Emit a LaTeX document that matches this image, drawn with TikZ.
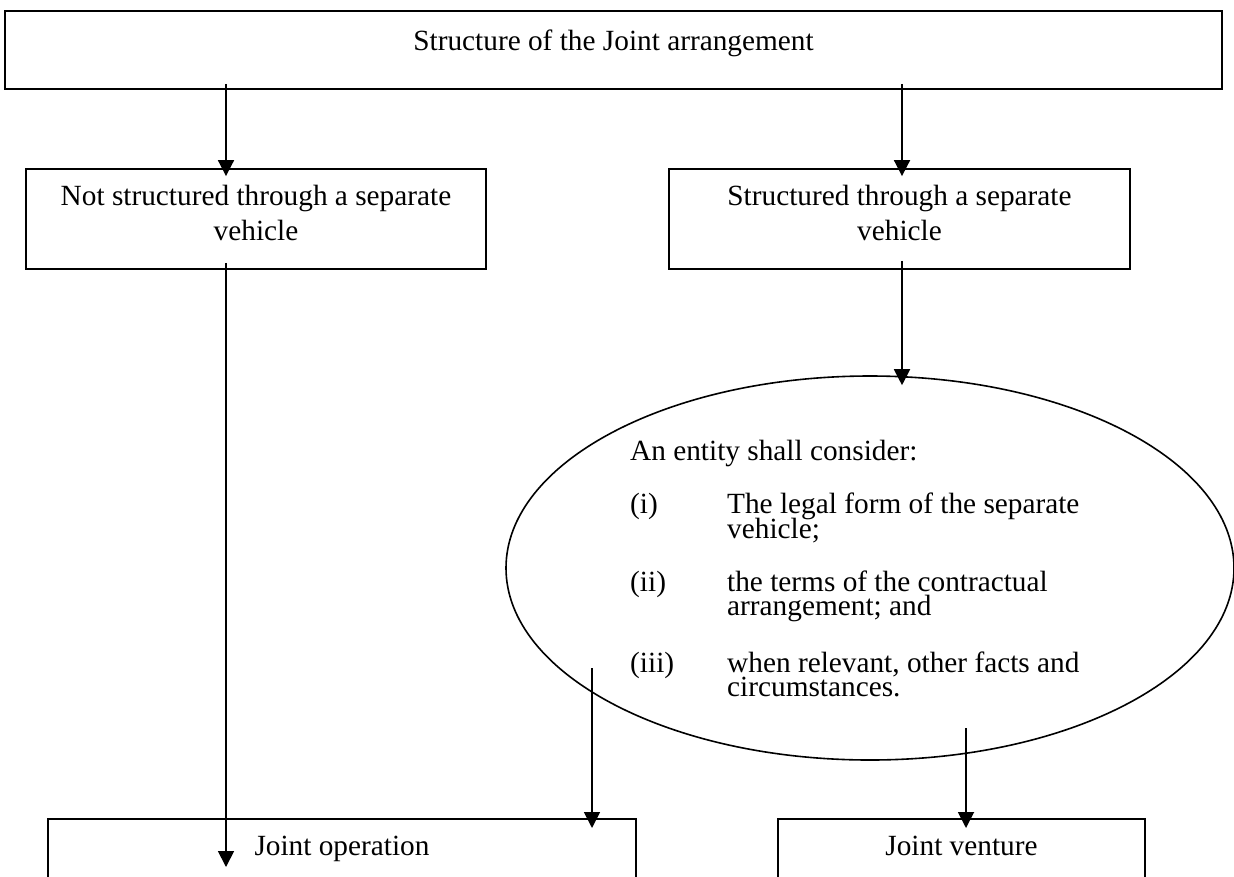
\documentclass[tikz,border=0pt]{standalone}
\usepackage{fontspec}
\setmainfont{Liberation Serif}
\usetikzlibrary{arrows.meta,positioning,shapes.geometric}

\newcommand{\dstrut}{\rule[-13pt]{0pt}{13pt}}
\newcommand{\listfont}{\fontsize{29.3}{24.5}\selectfont\lineskiplimit=-20pt\relax}

\begin{document}
\begin{tikzpicture}[x=1pt, y=-1pt,
    box/.style={rectangle, draw=black, line width=1.8pt, inner sep=0pt, font=\fontsize{29.3}{35}\selectfont, align=center},
    oval/.style={ellipse, draw=black, line width=1.6pt, inner sep=0pt, minimum width=728pt, minimum height=384pt},
    arrow/.style={-{Triangle[width=16pt,length=16pt]}, line width=1.8pt}
]
\path[use as bounding box, clip] (0,0) rectangle (1234,876);

% Top box
\node[box, anchor=north, minimum width=1217pt, text height=40pt, text depth=38pt] (top) at (613.5,10) {Structure of the Joint arrangement};

% Second row
\node[box, minimum width=460pt, minimum height=100pt] (notsep) at (256,219) {Not structured through a separate\\vehicle\dstrut};
\node[box, minimum width=461pt, minimum height=100pt] (sep) at (899.5,219) {Structured through a separate\\vehicle\dstrut};

% Ellipse with the list
\node[oval] (consider) at (870,568) {};
\node[anchor=north west, inner sep=0pt, align=left, font=\listfont] (items) at (630,440) {
    An entity shall consider:\\[28.5pt]
    \makebox[97pt][l]{(i)}The legal form of the separate\\
    \hspace*{97pt}vehicle;\\[28.5pt]
    \makebox[97pt][l]{(ii)}the terms of the contractual\\
    \hspace*{97pt}arrangement; and\\[32pt]
    \makebox[97pt][l]{(iii)}when relevant, other facts and\\
    \hspace*{97pt}circumstances.
};

% Bottom boxes
\node[box, anchor=north, minimum width=588pt, text height=37pt, text depth=83pt] (jop) at (342,818) {Joint operation};
\node[box, anchor=north, minimum width=367pt, text height=37pt, text depth=83pt] (jv) at (961.5,818) {Joint venture};

% Arrows
\draw[arrow] ([xshift=-30pt,yshift=6pt]notsep.north |- top.south) -- ([xshift=-30pt,yshift=-8pt]notsep.north);
\draw[arrow] ([xshift=2.5pt,yshift=6pt]sep.north |- top.south) -- ([xshift=2.5pt,yshift=-8pt]sep.north);
\draw[arrow] ([xshift=-30pt,yshift=7pt]notsep.south) -- ([xshift=-116pt,yshift=-49pt]jop.north);
\draw[arrow] ([xshift=2.5pt,yshift=9pt]sep.south) -- ([xshift=32pt,yshift=-10pt]consider.north);
\draw[arrow] ([xshift=-278pt,yshift=-100pt]consider.center) -- ([xshift=250pt,yshift=-10pt]jop.north);
\draw[arrow] ([xshift=96pt,yshift=-160pt]consider.center) -- ([xshift=4.5pt,yshift=-10pt]jv.north);

\end{tikzpicture}
\end{document}
